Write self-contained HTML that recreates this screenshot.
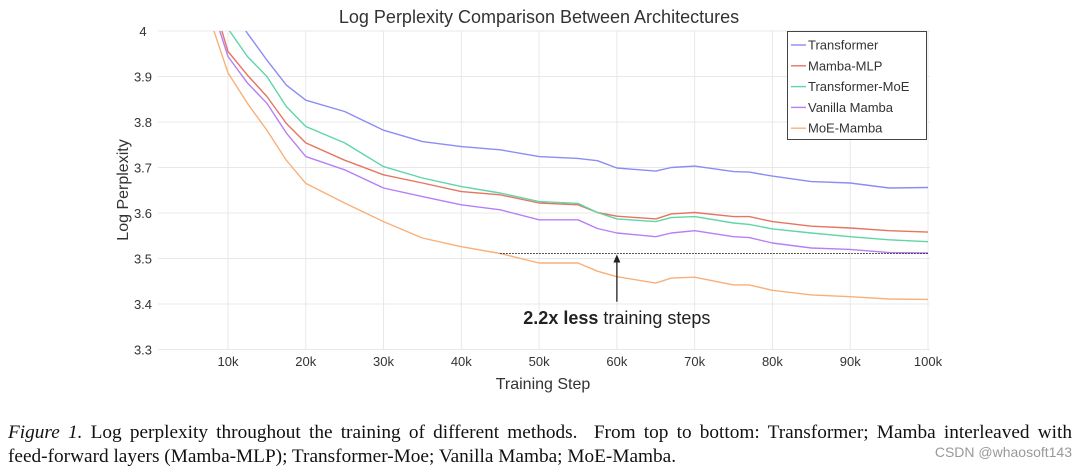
<!DOCTYPE html>
<html><head><meta charset="utf-8"><style>
body{margin:0;background:#fff;width:1080px;height:469px;overflow:hidden;position:relative}
svg{position:absolute;left:0;top:0}
.cap{position:absolute;left:8px;font-family:"Liberation Serif",serif;font-size:19.3px;color:#111;white-space:nowrap}
</style></head><body>
<svg id="chart" width="1080" height="469" font-family="Liberation Sans, sans-serif"></svg>
<div class="cap" style="top:422px;width:1064px;text-align:justify;text-align-last:justify"><i>Figure 1.</i> Log perplexity throughout the training of different methods.&nbsp; From top to bottom: Transformer; Mamba interleaved with</div>
<div class="cap" style="top:446px">feed-forward layers (Mamba-MLP); Transformer-Moe; Vanilla Mamba; MoE-Mamba.</div>
<div style="position:absolute;right:8px;top:444px;font-family:'Liberation Sans',sans-serif;font-size:14px;color:#999;white-space:nowrap">CSDN @whaosoft143</div>
<script>
const steps=[8,10,12.5,15,17.5,20,25,30,35,40,45,50,55,57.5,60,65,67,70,75,77,80,85,90,95,100];
const transformer=[4.25,4.06,3.995,3.936,3.881,3.848,3.823,3.782,3.757,3.746,3.739,3.724,3.72,3.715,3.699,3.692,3.70,3.703,3.691,3.690,3.681,3.669,3.666,3.655,3.656];
const mambaMLP=[4.07,3.955,3.903,3.856,3.797,3.754,3.716,3.684,3.666,3.647,3.64,3.622,3.618,3.601,3.593,3.587,3.598,3.601,3.592,3.592,3.581,3.571,3.567,3.561,3.558];
const transformerMoE=[4.15,4.005,3.944,3.90,3.834,3.79,3.754,3.702,3.677,3.658,3.644,3.625,3.621,3.601,3.587,3.581,3.590,3.592,3.578,3.575,3.565,3.556,3.548,3.541,3.537];
const vanillaMamba=[4.05,3.944,3.886,3.841,3.776,3.724,3.695,3.655,3.636,3.618,3.607,3.585,3.585,3.566,3.556,3.548,3.556,3.561,3.548,3.546,3.534,3.523,3.52,3.513,3.512];
const moeMamba=[4.01,3.908,3.841,3.782,3.716,3.665,3.622,3.581,3.545,3.526,3.511,3.49,3.49,3.472,3.46,3.446,3.457,3.459,3.442,3.442,3.43,3.42,3.416,3.411,3.41];
const xTicks=[10,20,30,40,50,60,70,80,90,100];
const yTicks=[4,3.9,3.8,3.7,3.6,3.5,3.4,3.3];
const names=["Transformer","Mamba-MLP","Transformer-MoE","Vanilla Mamba","MoE-Mamba"];
const colors=["#8c8cf5","#e57560","#5ed6a6","#b580f5","#f8b07a"];
const series=[transformer,mambaMLP,transformerMoE,vanillaMamba,moeMamba];
const refValue=3.511, refStart=45, refEnd=100, arrowStep=60;
const X=k=>150.2+k*7.778, Y=v=>31+(4-v)*455;
const svg=document.getElementById('chart');const NS='http://www.w3.org/2000/svg';
function mk(t,a,p){const e=document.createElementNS(NS,t);for(const k in a)e.setAttribute(k,a[k]);(p||svg).appendChild(e);return e;}
const defs=mk('defs',{});const cp=mk('clipPath',{id:'clip'},defs);mk('rect',{x:158,y:Y(4),width:772,height:330},cp);
yTicks.forEach(v=>{const l=mk('line',{x1:158,x2:930,y1:Y(v),y2:Y(v),stroke:'#e8e8e8','stroke-width':1});

const t=mk('text',{x:143,y:Y(v)+5,'text-anchor':'middle','font-size':13,fill:'#333'});t.textContent=String(v);
});
xTicks.forEach(k=>{const l=mk('line',{x1:X(k),x2:X(k),y1:Y(4),y2:Y(3.3),stroke:'#e8e8e8','stroke-width':1});

const t=mk('text',{x:X(k),y:366,'text-anchor':'middle','font-size':13,fill:'#333'});t.textContent=k+'k';
});
const g=mk('g',{'clip-path':'url(#clip)'});
series.forEach((s,i)=>{const p=mk('path',{d:s.map((v,j)=>(j?'L':'M')+X(steps[j]).toFixed(1)+' '+Y(v).toFixed(1)).join(' '),fill:'none',stroke:colors[i],'stroke-width':1.4,'stroke-linejoin':'round'},g);
});
const dl=mk('line',{x1:X(refStart),x2:X(refEnd),y1:Y(refValue),y2:Y(refValue),stroke:'#222','stroke-width':1,'stroke-dasharray':'1.5,1.5'});

const ar=mk('line',{x1:X(arrowStep),x2:X(arrowStep),y1:Y(refValue)+6,y2:Y(3.405),stroke:'#222','stroke-width':1.3});

const ah=mk('polygon',{points:`${X(arrowStep)},${Y(refValue)+1} ${X(arrowStep)-3.5},${Y(refValue)+9} ${X(arrowStep)+3.5},${Y(refValue)+9}`,fill:'#222'});

const an=mk('text',{x:X(arrowStep),y:324,'text-anchor':'middle','font-size':18,fill:'#222'});
an.innerHTML='<tspan font-weight="bold">2.2x less</tspan> training steps';

const tt=mk('text',{x:539,y:23,'text-anchor':'middle','font-size':18,fill:'#333'});tt.textContent='Log Perplexity Comparison Between Architectures';

const xl=mk('text',{x:543,y:389,'text-anchor':'middle','font-size':16,fill:'#333'});xl.textContent='Training Step';

const yl=mk('text',{x:0,y:0,'text-anchor':'middle','font-size':16,fill:'#333',transform:'translate(128,190) rotate(-90)'});yl.textContent='Log Perplexity';

const lg=mk('g',{});
mk('rect',{x:787.5,y:31.5,width:139,height:108,fill:'#fff',stroke:'#444','stroke-width':1},lg);
names.forEach((n,i)=>{const yy=45+i*20.8;const e=mk('g',{},lg);

mk('line',{x1:791,x2:806,y1:yy,y2:yy,stroke:colors[i],'stroke-width':1.4},e);
const t=mk('text',{x:808,y:yy+4.5,'font-size':13,fill:'#333'},e);t.textContent=n;});
</script>
</body></html>
